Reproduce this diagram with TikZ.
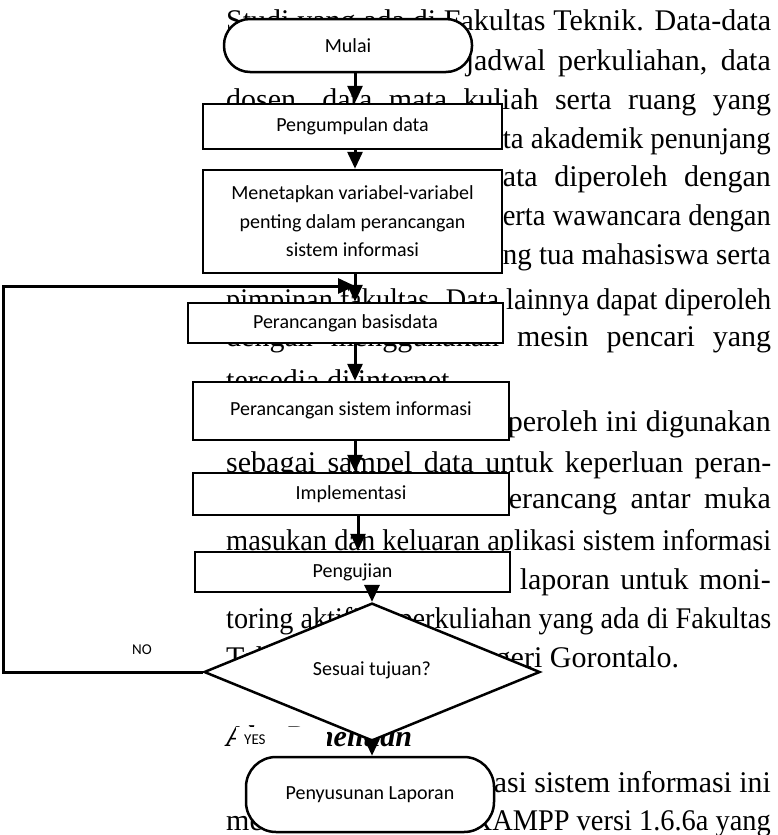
\documentclass[tikz,border=0pt]{standalone}
\usepackage{fontspec}
\usepackage{graphicx}
\setmainfont{Liberation Serif}
\newfontfamily\chartfont{Carlito}
\usetikzlibrary{arrows.meta,shapes.geometric}
% set a line of body text to an exact width: stretch the spaces if it is short, squeeze it if it is long
\newlength\natw
\newcommand\fitline[2]{\settowidth\natw{#2}\ifdim\natw>#1\relax\resizebox{#1}{\height}{#2}\else\makebox[#1][s]{#2}\fi}
\begin{document}
\begin{tikzpicture}[x=1pt,y=-1pt,
  body/.style={anchor=base west, inner sep=0pt, font=\fontsize{30}{36}\selectfont},
  bodyr/.style={anchor=base east, inner sep=0pt, font=\fontsize{30}{36}\selectfont},
  proc/.style={draw, line width=2.5pt, fill=white, rectangle, inner sep=0pt,
    font=\chartfont\fontsize{20}{28.5}\selectfont, align=center},
  term/.style={proc, rounded corners=26pt},
  decision/.style={proc, diamond},
  arr/.style={line width=3pt, -{Triangle[width=15pt,length=17pt]}},
  lbl/.style={font=\chartfont\fontsize{15}{18}\selectfont, inner sep=0pt}]

\path[use as bounding box, fill=white] (0,0) rectangle (778,835);

% ---- page text behind the chart ----
\node[body]  (t1)  at (226,30)  {\fitline{545pt}{Studi yang ada di Fakultas Teknik. Data-data}};
\node[bodyr] (t2)  at (771,70)  {\fitline{305pt}{jadwal perkuliahan, data}};
\node[body]  (t3)  at (226,109) {\fitline{545pt}{dosen, data mata kuliah serta ruang yang}};
\node[bodyr] (t4)  at (771,148) {\fitline{268pt}{ta akademik penunjang}};
\node[bodyr] (t5)  at (771,186) {\fitline{268pt}{ata diperoleh dengan}};
\node[bodyr] (t6)  at (771,225) {\fitline{268pt}{erta wawancara dengan}};
\node[bodyr] (t7)  at (771,264) {\fitline{268pt}{ng tua mahasiswa serta}};
\node[body]  (t8)  at (226,309) {\fitline{545pt}{pimpinan fakultas. Data lainnya dapat diperoleh}};
\node[body]  (t9)  at (226,346) {\fitline{545pt}{dengan menggunakan mesin pencari yang}};
\node[body]  (t10) at (226,390) {tersedia di internet.};
\node[bodyr] (t11) at (771,431) {\fitline{263pt}{peroleh ini digunakan}};
\node[body]  (t12) at (226,472) {\fitline{545pt}{sebagai sampel data untuk keperluan peran-}};
\node[bodyr] (t13) at (771,508) {\fitline{262pt}{erancang antar muka}};
\node[body]  (t14) at (226,550) {\fitline{545pt}{masukan dan keluaran aplikasi sistem informasi}};
\node[bodyr] (t15) at (771,589) {\fitline{251pt}{laporan untuk moni-}};
\node[body]  (t16) at (226,628) {\fitline{545pt}{toring aktifitas perkuliahan yang ada di Fakultas}};
\node[body]  (t17) at (226,667) {Teknik Universitas Negeri Gorontalo.};
\node[body, font=\fontsize{30}{36}\selectfont\bfseries\itshape] (hd) at (226,746) {Alat Penelitian};
\node[bodyr] (t19) at (771,792) {\fitline{277pt}{asi sistem informasi ini}};
\node[body]  (t20a) at (226,830) {me};
\node[bodyr] (t20b) at (771,830) {\fitline{299pt}{XAMPP versi 1.6.6a yang}};

% ---- flowchart ----
\coordinate (ax) at (355,0);
\coordinate (bx) at (358,0);

\node[term, minimum width=248pt, minimum height=53pt] (start) at (348,45.5) {Mulai};
\node[proc, minimum width=299pt, minimum height=45pt] (collect) at (352.5,126.5) {Pengumpulan data};
\node[proc, minimum width=299pt, minimum height=103pt] (vars) at (352.5,221.5)
  {Menetapkan variabel-variabel\\penting dalam perancangan\\sistem informasi};
\node[proc, minimum width=315pt, minimum height=40pt] (dbase) at (345.5,323) {Perancangan basisdata};
\node[proc, minimum width=316pt, minimum height=58pt] (isdesign) at (351,411) {\raisebox{4pt}{Perancangan sistem informasi}};
\node[proc, minimum width=316pt, minimum height=42pt] (impl) at (351,494) {Implementasi};
\node[proc, minimum width=315pt, minimum height=40pt] (test) at (352.5,572) {Pengujian};
\node[decision, minimum width=336pt, minimum height=114pt] (check) at (372,672) {\raisebox{6pt}{Sesuai tujuan?}};
\node[term, rounded corners=30pt, minimum width=248pt, minimum height=75pt] (report) at (370,794.5) {Penyusunan Laporan};

\node[lbl] (no) at (142,650) {NO};
\node[lbl, fill=white, anchor=west, text width=75pt, inner xsep=8pt, minimum height=26pt] (yes) at (236,740) {YES};

\coordinate (fbA) at (3,672);
\coordinate (fbB) at (3,286);
\coordinate (fbC) at (355,286);

\draw[arr] (start.south -| ax) -- (collect.north -| ax);
\draw[arr] (collect.south -| ax) -- (vars.north -| ax);
\draw[arr] (vars.south -| ax) -- (dbase.north -| ax);
\draw[arr] (dbase.south -| ax) -- (isdesign.north -| ax);
\draw[arr] (isdesign.south -| ax) -- (impl.north -| ax);
\draw[arr] (impl.south -| bx) -- (test.north -| bx);
\draw[arr] (test.south -| check.north) -- (check.north);
\draw[arr] (check.south) -- (check.south |- report.north);
\draw[arr] (check.west) -- (fbA) -- (fbB) -- (fbC);
\end{tikzpicture}
\end{document}
